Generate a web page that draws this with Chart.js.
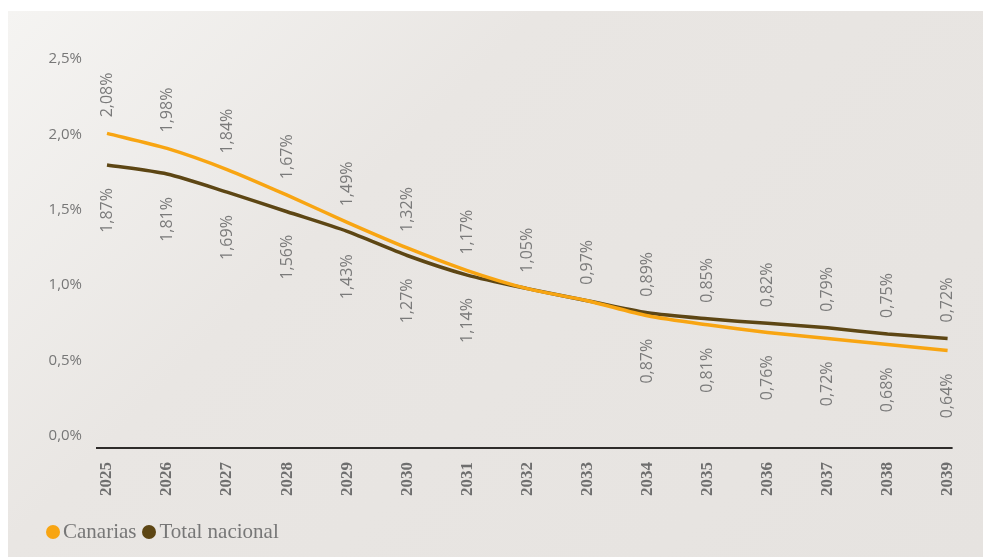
<!DOCTYPE html>
<html>
<head>
<meta charset="utf-8">
<script src="https://cdn.jsdelivr.net/npm/chart.js@4.4.1/dist/chart.umd.min.js"></script>
<style>
  html, body { margin: 0; padding: 0; background: #fff; }
  body { width: 983px; height: 557px; position: relative; overflow: hidden; }
  #panel {
    position: absolute; left: 8px; top: 11px; width: 975px; height: 546px;
    background: linear-gradient(135deg, #f5f4f2 0%, #e9e6e3 35%, #e6e3e0 100%);
  }
  #wrap { position: absolute; left: 0; top: 0; width: 983px; height: 557px; }
  #legend {
    position: absolute; left: 46px; top: 519px;
    font-family: "Liberation Serif", serif; font-size: 21px; color: #777;
    display: flex; align-items: center;
  }
  #legend span.dot { display: inline-block; width: 14px; height: 14px; border-radius: 50%; margin-right: 3px; }
  #legend span.item { display: flex; align-items: center; margin-right: 6px; }
</style>
</head>
<body>
<div id="panel"></div>
<div id="wrap"><canvas id="chart" width="983" height="557"></canvas></div>
<div id="legend"></div>
<script>
// Data
const years = ['2025', '2026', '2027', '2028', '2029', '2030', '2031', '2032', '2033', '2034', '2035', '2036', '2037', '2038', '2039'];
const canarias = [2.08, 1.98, 1.84, 1.67, 1.49, 1.32, 1.17, 1.05, 0.97, 0.87, 0.81, 0.76, 0.72, 0.68, 0.64];
const totalNacional = [1.87, 1.81, 1.69, 1.56, 1.43, 1.27, 1.14, 1.05, 0.97, 0.89, 0.85, 0.82, 0.79, 0.75, 0.72];
const seriesNames = ['Canarias', 'Total nacional'];
const seriesColors = ['#f8a512', '#5d4614'];

const fmt = v => v.toFixed(2).replace('.', ',') + '%';

// value labels, rotated, above the higher line and below the lower one
const valueLabels = {
    id: 'valueLabels',
    afterDatasetsDraw(chart) {
        const ctx = chart.ctx;
        const m0 = chart.getDatasetMeta(0).data;
        const m1 = chart.getDatasetMeta(1).data;
        ctx.save();
        ctx.font = '16px "Open Sans"';
        ctx.fillStyle = '#7a7a7a';
        ctx.textBaseline = 'middle';
        years.forEach((y, i) => {
            const a = canarias[i], b = totalNacional[i];
            const pa = m0[i], pb = m1[i];
            let up, low;
            if (a >= b) { up = {v: a, p: pa}; low = {v: b, p: pb}; }
            else { up = {v: b, p: pb}; low = {v: a, p: pa}; }
            ctx.save();
            ctx.translate(up.p.x, up.p.y);
            ctx.rotate(-Math.PI / 2);
            ctx.textAlign = 'left';
            ctx.fillText(fmt(up.v), 16, 0);
            ctx.restore();
            if (a !== b) {
                ctx.save();
                ctx.translate(low.p.x, low.p.y);
                ctx.rotate(-Math.PI / 2);
                ctx.textAlign = 'right';
                ctx.fillText(fmt(low.v), -23, 0);
                ctx.restore();
            }
        });
        ctx.restore();
    }
};

// baseline, a bit wider than the plot
const baseLine = {
    id: 'baseLine',
    beforeDatasetsDraw(chart) {
        const ctx = chart.ctx;
        const a = chart.chartArea;
        ctx.save();
        ctx.strokeStyle = '#2e2c2a';
        ctx.lineWidth = 2;
        ctx.beginPath();
        ctx.moveTo(a.left - 11, a.bottom + 1);
        ctx.lineTo(a.right + 5, a.bottom + 1);
        ctx.stroke();
        ctx.restore();
    }
};

const ctx = document.getElementById('chart').getContext('2d');
const chart = new Chart(ctx, {
    type: 'line',
    data: {
        labels: years,
        datasets: [
            {label: seriesNames[0], data: canarias, borderColor: seriesColors[0], backgroundColor: seriesColors[0],
             borderWidth: 3.5, pointRadius: 0, tension: 0.25},
            {label: seriesNames[1], data: totalNacional, borderColor: seriesColors[1], backgroundColor: seriesColors[1],
             borderWidth: 3.5, pointRadius: 0, tension: 0.25}
        ]
    },
    options: {
        responsive: false,
        animation: false,
        layout: {padding: {top: 70, right: 31, left: 0, bottom: 0}},
        plugins: {legend: {display: false}, tooltip: {enabled: false}},
        scales: {
            x: {
                offset: false,
                grid: {display: false, drawTicks: false},
                border: {display: false},
                ticks: {
                    minRotation: 90, maxRotation: 90, padding: 15, autoSkip: false,
                    color: '#6e6e6e',
                    font: {family: '"Liberation Serif"', size: 17, weight: 'bold'}
                },
                afterFit(scale) { scale.height = 110; }
            },
            y: {
                min: 0, max: 2.5,
                grid: {display: false, drawTicks: false},
                border: {display: false},
                ticks: {
                    stepSize: 0.5, padding: 25, labelOffset: -11,
                    color: '#777',
                    font: {family: '"Open Sans"', size: 15},
                    callback: v => v.toFixed(1).replace('.', ',') + '%'
                },
                afterFit(scale) { scale.width = 107; }
            }
        }
    },
    plugins: [baseLine, valueLabels]
});

// Legend
const legend = document.getElementById('legend');
seriesNames.forEach((name, i) => {
    const item = document.createElement('span');
    item.className = 'item';
    item.innerHTML = `<span class="dot" style="background:${seriesColors[i]}"></span>${name}`;
    legend.appendChild(item);
});
</script>
</body>
</html>
